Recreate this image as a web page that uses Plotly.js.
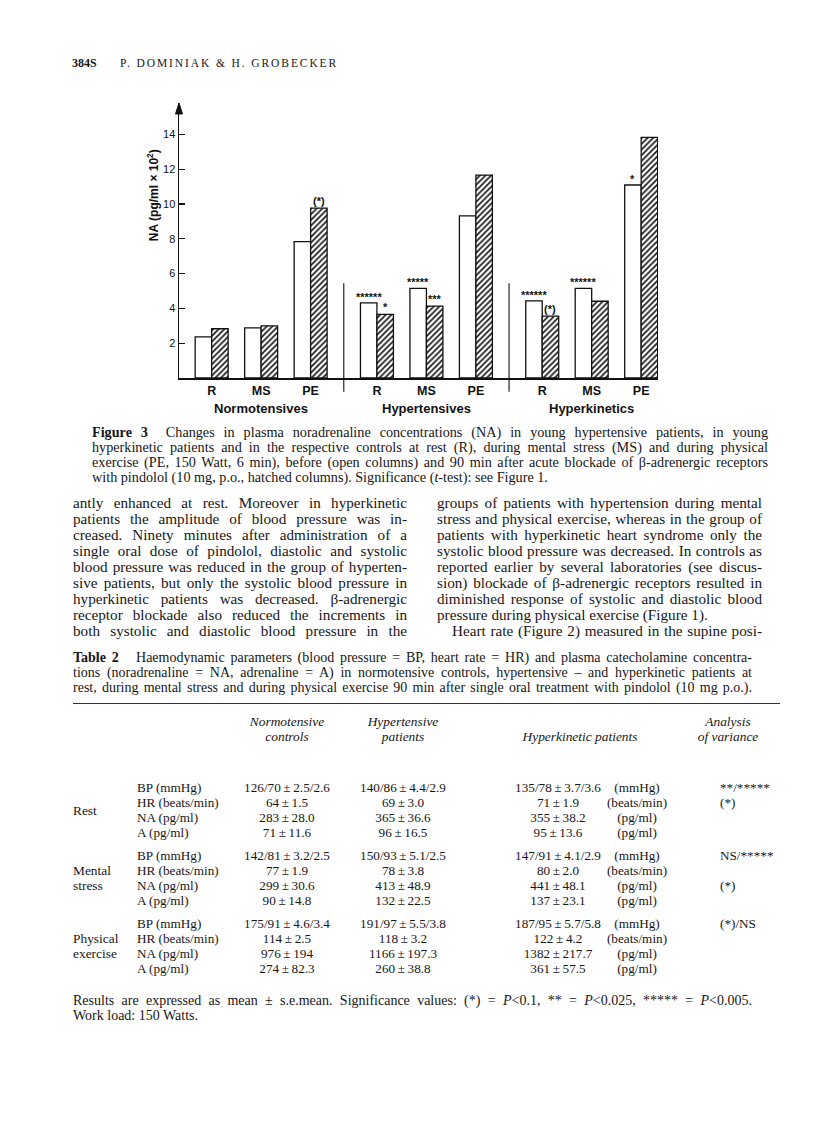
<!DOCTYPE html>
<html><head><meta charset="utf-8">
<script src="https://cdn.plot.ly/plotly-3.0.1.min.js"></script>
<style>
body{margin:0;background:#fff;}
#page{position:relative;width:816px;height:1146px;overflow:hidden;font-family:"Liberation Serif","Times New Roman",serif;color:#161616;}
.t{position:absolute;white-space:nowrap;}
.j{position:absolute;text-align:justify;text-align-last:justify;white-space:normal;overflow:visible;}
.c{position:absolute;white-space:nowrap;text-align:center;transform:translateX(-50%);}
</style></head><body><div id="page"><div id="chart" style="position:absolute;left:0;top:0;width:816px;height:430px;"></div></div>
<script>
// ---------------- chart data ----------------
const groups = ['Normotensives', 'Hypertensives', 'Hyperkinetics'];
const conditions = ['R', 'MS', 'PE'];
// NA (pg/ml x 10^2) before (open columns) and after pindolol (hatched columns)
const naBefore = [2.36, 2.88, 7.83, 4.32, 5.15, 9.32, 4.43, 5.15, 11.09];
const naAfter  = [2.83, 2.99, 9.76, 3.65, 4.13, 11.66, 3.55, 4.41, 13.82];
const sigBefore = ['', '', '', '******', '*****', '', '******', '******', '*'];
const sigAfter  = ['', '', '(*)', '*', '***', '', '(*)', '', ''];
const yTicks = [2, 4, 6, 8, 10, 12, 14];

// ---------------- table data ----------------
const rowGroups = [['Rest'], ['Mental', 'stress'], ['Physical', 'exercise']];
const params = ['BP (mmHg)', 'HR (beats/min)', 'NA (pg/ml)', 'A (pg/ml)'];
const normoVals = [['126/70 ± 2.5/2.6', '64 ± 1.5', '283 ± 28.0', '71 ± 11.6'],
                   ['142/81 ± 3.2/2.5', '77 ± 1.9', '299 ± 30.6', '90 ± 14.8'],
                   ['175/91 ± 4.6/3.4', '114 ± 2.5', '976 ± 194', '274 ± 82.3']];
const hyperVals = [['140/86 ± 4.4/2.9', '69 ± 3.0', '365 ± 36.6', '96 ± 16.5'],
                   ['150/93 ± 5.1/2.5', '78 ± 3.8', '413 ± 48.9', '132 ± 22.5'],
                   ['191/97 ± 5.5/3.8', '118 ± 3.2', '1166 ± 197.3', '260 ± 38.8']];
const kineticVals = [['135/78 ± 3.7/3.6', '71 ± 1.9', '355 ± 38.2', '95 ± 13.6'],
                     ['147/91 ± 4.1/2.9', '80 ± 2.0', '441 ± 48.1', '137 ± 23.1'],
                     ['187/95 ± 5.7/5.8', '122 ± 4.2', '1382 ± 217.7', '361 ± 57.5']];
const units = ['(mmHg)', '(beats/min)', '(pg/ml)', '(pg/ml)'];
const anova = [['**/*****', '(*)', '', ''], ['NS/*****', '', '(*)', ''], ['(*)/NS', '', '', '']];

// ---------------- chart ----------------
const GAP = 0.34, BW = 0.333;
const pos = [], tickText = [];
groups.forEach((g, gi) => conditions.forEach((c, ci) => { pos.push(gi * 3 + ci + gi * GAP); tickText.push(c); }));
const xr = [-0.66, 9.02], yr = [0, 15.8];
const sans = '"Liberation Sans", Arial, sans-serif';

const traces = [
  {type: 'bar', x: pos, y: naBefore, width: BW, offset: -BW, marker: {color: '#ffffff', line: {color: '#111', width: 1.3}}, hoverinfo: 'skip'},
  {type: 'bar', x: pos, y: naAfter, width: BW, offset: 0,
   marker: {color: '#ffffff', line: {color: '#111', width: 1.3}, pattern: {shape: '/', fgcolor: '#111', bgcolor: '#fff', size: 4, solidity: 0.4}}, hoverinfo: 'skip'}
];

const ann = [];
pos.forEach((p, i) => {
  if (sigBefore[i]) ann.push({x: p - BW / 2, y: naBefore[i], text: sigBefore[i], showarrow: false, yanchor: 'bottom', yshift: -2, font: {family: sans, size: 11, color: '#111', weight: 'bold'}});
  if (sigAfter[i]) ann.push({x: p + BW / 2, y: naAfter[i], text: sigAfter[i], showarrow: false, yanchor: 'bottom', yshift: -1, font: {family: sans, size: 11, color: '#111', weight: 'bold'}});
});
groups.forEach((g, gi) => {
  const cx = (pos[gi * 3] + pos[gi * 3 + 2]) / 2;
  ann.push({x: cx, xref: 'x', y: 0, yref: 'paper', yanchor: 'middle', yshift: -30, text: g, showarrow: false, font: {family: sans, size: 13, color: '#111', weight: 'bold'}});
});
ann.push({x: 0, xref: 'paper', xshift: -36, y: 0.665, yref: 'paper', text: 'NA (pg/ml × 10<sup>2</sup>)', textangle: -90, showarrow: false, font: {family: sans, size: 12, color: '#111', weight: 'bold'}});

const plotW = 816 - 179 - 158, plotH = 430 - 103 - 52;
const shapes = [];
for (let gi = 1; gi < groups.length; gi++) {
  const xm = (pos[gi * 3 - 1] + pos[gi * 3]) / 2;
  shapes.push({type: 'line', xref: 'x', yref: 'paper', x0: xm, x1: xm, y0: -0.05, y1: 0.345, line: {color: '#111', width: 1.1}});
}
shapes.push({type: 'path', xref: 'paper', yref: 'paper', path: `M ${-3.5 / plotW},${1 - 11 / plotH} L 0,1 L ${3.5 / plotW},${1 - 11 / plotH} Z`, fillcolor: '#111', line: {color: '#111', width: 1}});

const layout = {
  width: 816, height: 430,
  margin: {l: 179, r: 158, t: 103, b: 52, pad: 0},
  paper_bgcolor: '#fff', plot_bgcolor: '#fff',
  showlegend: false, barmode: 'overlay',
  xaxis: {range: xr, showline: true, linecolor: '#111', linewidth: 1.5, showgrid: false, zeroline: false,
          tickmode: 'array', tickvals: pos, ticktext: tickText, ticks: '', tickfont: {family: sans, size: 12.5, color: '#111', weight: 'bold'}},
  yaxis: {range: yr, showline: true, linecolor: '#111', linewidth: 1.5, showgrid: false, zeroline: false,
          tickmode: 'array', tickvals: yTicks, ticks: 'inside', ticklen: 6, tickwidth: 1.2, tickcolor: '#111',
          tickfont: {family: sans, size: 11, color: '#111'}},
  annotations: ann, shapes: shapes
};
Plotly.newPlot('chart', traces, layout, {displayModeBar: false, staticPlot: true});

// ---------------- page text ----------------
const page = document.getElementById('page');
function put(cls, html, x, yc, size, extra) {
  const d = document.createElement('div');
  d.className = cls;
  d.innerHTML = html;
  const lh = Math.round(size * 1.2);
  d.style.left = x + 'px';
  d.style.top = (yc - lh / 2) + 'px';
  d.style.fontSize = size + 'px';
  d.style.lineHeight = lh + 'px';
  if (extra) Object.assign(d.style, extra);
  page.appendChild(d);
  return d;
}
function just(html, x, yc, w, size) {
  const d = put('j', html, x, yc, size, {width: w + 'px'});
  const s = document.createElement('span');
  Object.assign(s.style, {position: 'absolute', whiteSpace: 'nowrap', visibility: 'hidden', fontSize: size + 'px'});
  s.innerHTML = html;
  page.appendChild(s);
  const nat = s.getBoundingClientRect().width;
  page.removeChild(s);
  if (nat > w - 3) d.style.letterSpacing = (-(nat - w + 4) / d.textContent.length).toFixed(3) + 'px';
  return d;
}

put('t', '<b>384S</b>', 72, 63, 12);
put('t', 'P. DOMINIAK &amp; H. GROBECKER', 120, 63, 11.5, {letterSpacing: '1.9px'});

const capLines = [
  '<b>Figure 3</b>&nbsp; Changes in plasma noradrenaline concentrations (NA) in young hypertensive patients, in young',
  'hyperkinetic patients and in the respective controls at rest (R), during mental stress (MS) and during physical',
  'exercise (PE, 150 Watt, 6 min), before (open columns) and 90 min after acute blockade of β-adrenergic receptors',
  'with pindolol (10 mg, p.o., hatched columns). Significance (<i>t</i>-test): see Figure 1.'
];
capLines.forEach((l, i) => {
  if (i < 3) just(l, 92, 432 + i * 15, 676, 14.2); else put('t', l, 92, 432 + i * 15, 14.2);
});

const leftCol = [
  'antly enhanced at rest. Moreover in hyperkinetic',
  'patients the amplitude of blood pressure was in-',
  'creased. Ninety minutes after administration of a',
  'single oral dose of pindolol, diastolic and systolic',
  'blood pressure was reduced in the group of hyperten-',
  'sive patients, but only the systolic blood pressure in',
  'hyperkinetic patients was decreased. β-adrenergic',
  'receptor blockade also reduced the increments in',
  'both systolic and diastolic blood pressure in the'
];
const rightCol = [
  'groups of patients with hypertension during mental',
  'stress and physical exercise, whereas in the group of',
  'patients with hyperkinetic heart syndrome only the',
  'systolic blood pressure was decreased. In controls as',
  'reported earlier by several laboratories (see discus-',
  'sion) blockade of β-adrenergic receptors resulted in',
  'diminished response of systolic and diastolic blood',
  'pressure during physical exercise (Figure 1).',
  'Heart rate (Figure 2) measured in the supine posi-'
];
leftCol.forEach((l, i) => just(l, 73, 503 + i * 16, 334, 15.2));
rightCol.forEach((l, i) => {
  if (i === 7) put('t', l, 437, 503 + i * 16, 15.2);
  else if (i === 8) just(l, 452, 503 + i * 16, 310, 15.2);
  else just(l, 437, 503 + i * 16, 325, 15.2);
});

const tcap = [
  '<b>Table 2</b>&nbsp;&nbsp; Haemodynamic parameters (blood pressure = BP, heart rate = HR) and plasma catecholamine concentra-',
  'tions (noradrenaline = NA, adrenaline = A) in normotensive controls, hypertensive – and hyperkinetic patients at',
  'rest, during mental stress and during physical exercise 90 min after single oral treatment with pindolol (10 mg p.o.).'
];
tcap.forEach((l, i) => just(l, 73, 657 + i * 15, 679, 14));

const rule = document.createElement('div');
Object.assign(rule.style, {position: 'absolute', left: '73px', top: '703px', width: '707px', height: '1px', background: '#333'});
page.appendChild(rule);

const colN = 287, colH = 403, colK = 558, colU = 637, colA = 720;
put('c', '<i>Normotensive</i>', colN, 722, 13.4);
put('c', '<i>controls</i>', colN, 737, 13.4);
put('c', '<i>Hypertensive</i>', colH, 722, 13.4);
put('c', '<i>patients</i>', colH, 737, 13.4);
put('c', '<i>Hyperkinetic patients</i>', 580, 737, 13.4);
put('c', '<i>Analysis</i>', 728, 722, 13.4);
put('c', '<i>of variance</i>', 728, 737, 13.4);

const blockY = [788, 856, 924];
rowGroups.forEach((rg, bi) => {
  const y0 = blockY[bi];
  if (rg.length === 1) put('t', rg[0], 73, y0 + 23, 13.4);
  else { put('t', rg[0], 73, y0 + 15, 13.4); put('t', rg[1], 73, y0 + 30, 13.4); }
  params.forEach((p, ri) => {
    const y = y0 + ri * 15;
    put('t', p, 137, y, 13.2);
    put('c', normoVals[bi][ri].replace(/ ± /g, '\u2009±\u2009'), colN, y, 13.2);
    put('c', hyperVals[bi][ri].replace(/ ± /g, '\u2009±\u2009'), colH, y, 13.2);
    put('c', kineticVals[bi][ri].replace(/ ± /g, '\u2009±\u2009'), colK, y, 13.2);
    put('c', units[ri], colU, y, 13.2);
    if (anova[bi][ri]) put('t', anova[bi][ri], colA, y, 13.2);
  });
});

just('Results are expressed as mean ± s.e.mean. Significance values: (*) = <i>P</i>&lt;0.1, ** = <i>P</i>&lt;0.025, ***** = <i>P</i>&lt;0.005.', 73, 1000, 679, 14);
put('t', 'Work load: 150 Watts.', 73, 1015, 14);
</script></body></html>
